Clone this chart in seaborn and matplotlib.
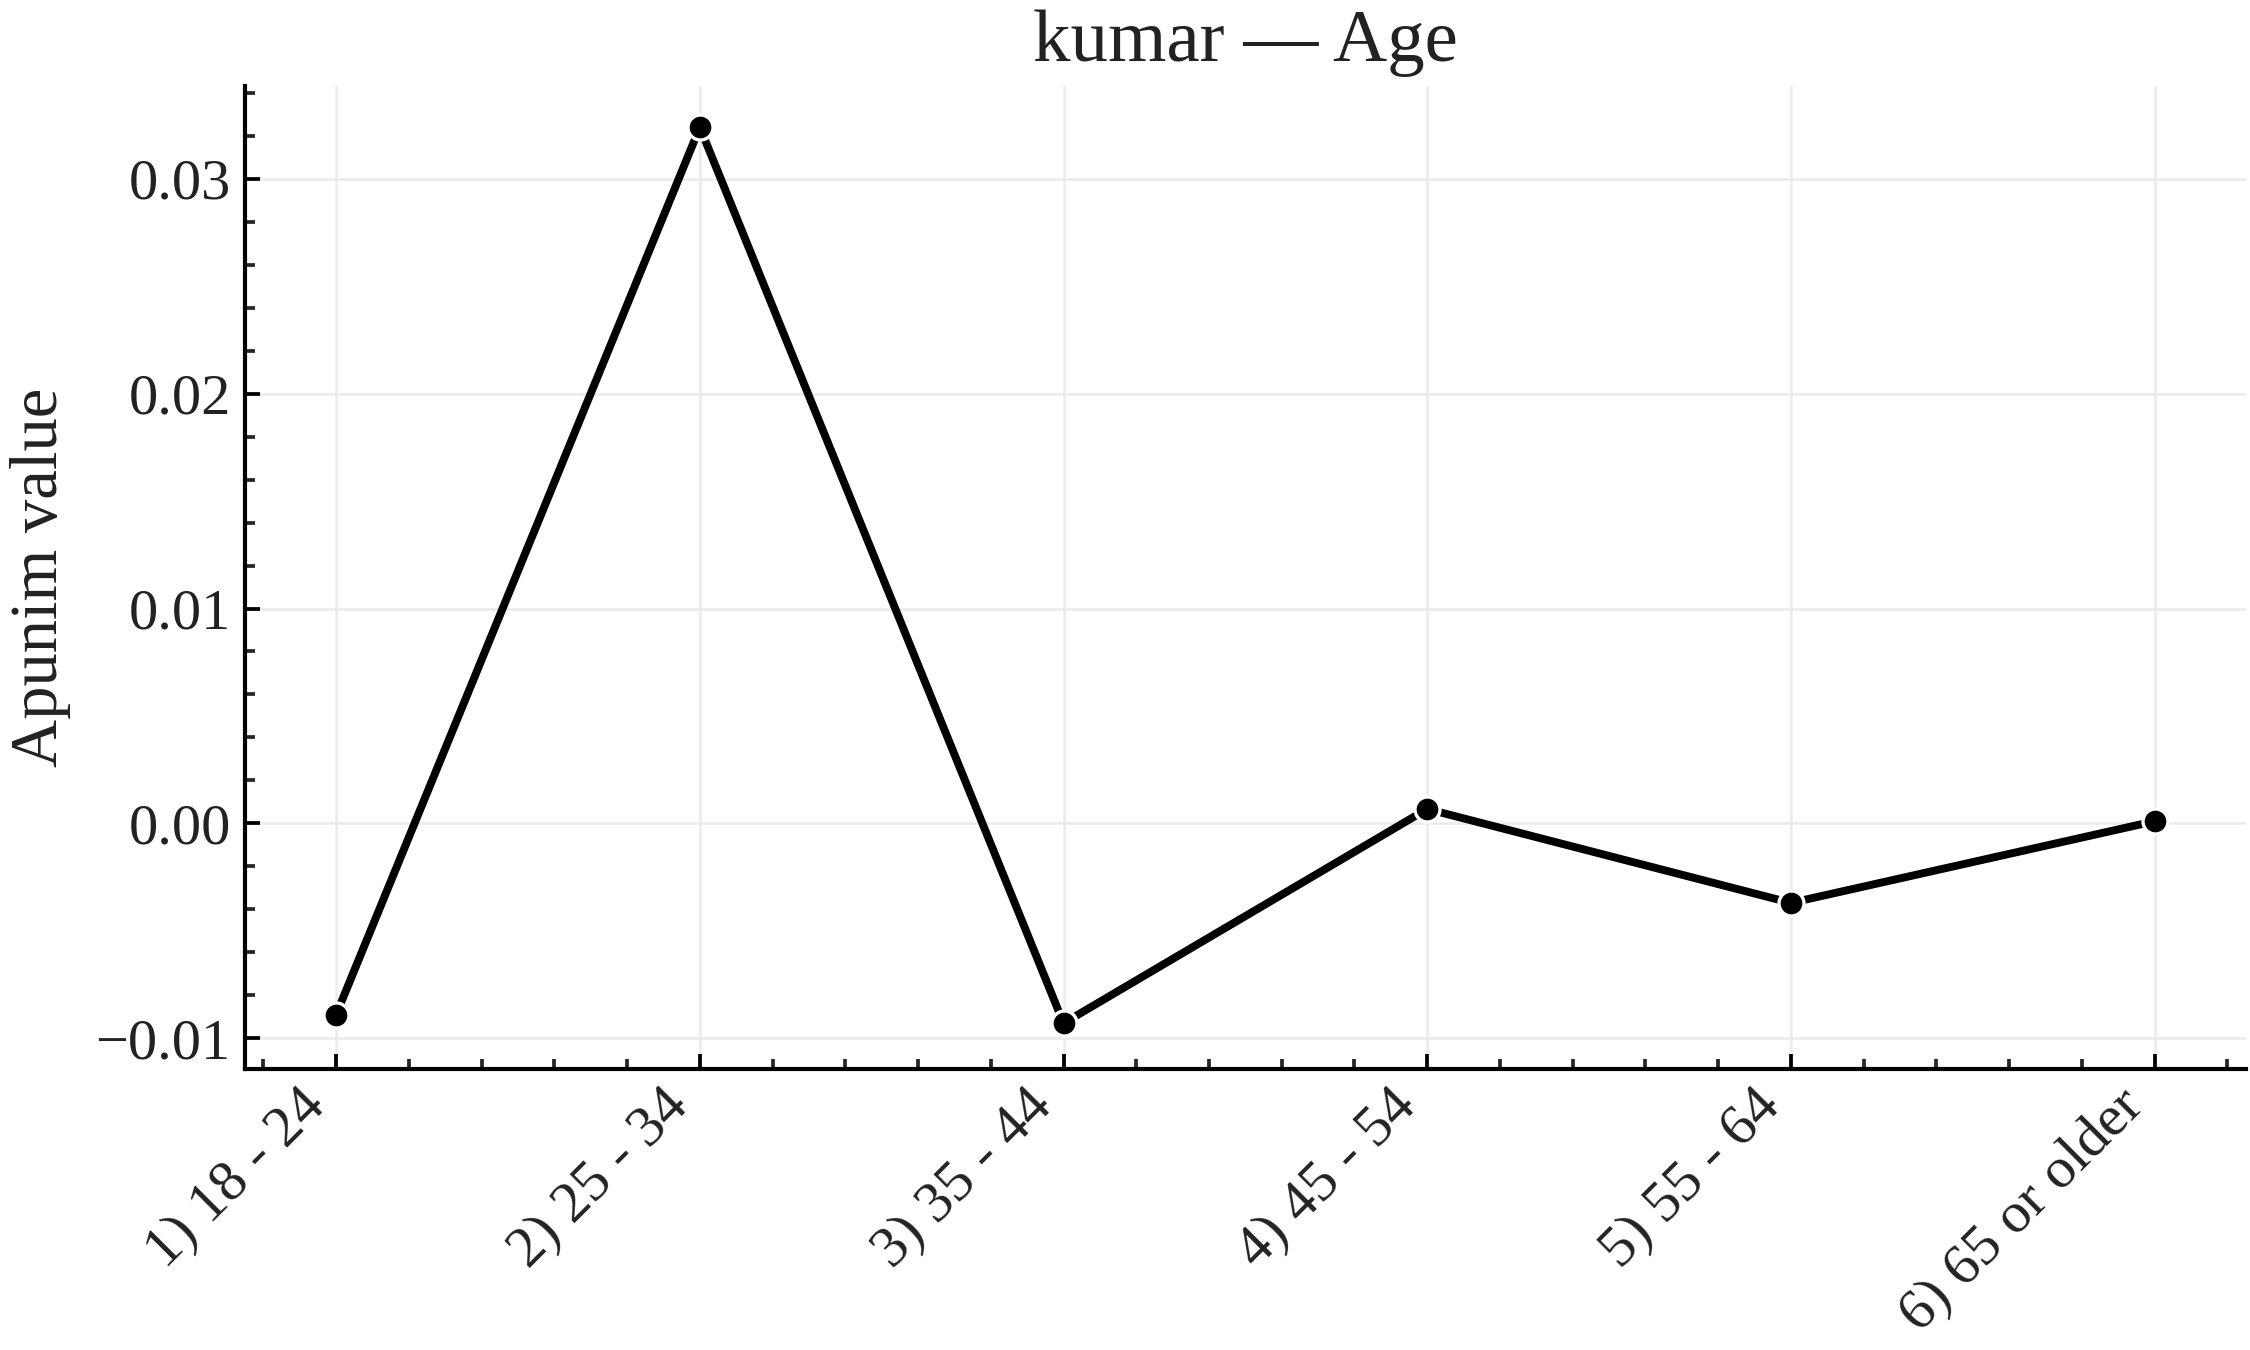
import seaborn as sns
import pandas as pd
from matplotlib import pyplot as plt
from matplotlib.ticker import AutoMinorLocator
from matplotlib.transforms import ScaledTranslation

age_groups = ["1) 18 - 24", "2) 25 - 34", "3) 35 - 44", "4) 45 - 54", "5) 55 - 64", "6) 65 or older"]
apunim_values = [-0.0089, 0.0324, -0.0093, 0.00067, -0.0037, 0.0001]

df = pd.DataFrame({"Age": age_groups, "Apunim value": apunim_values})

sns.set_theme(style="ticks", rc={
    "axes.spines.top": False,
    "axes.spines.right": False,
    "axes.linewidth": 1.0,
    "xtick.direction": "in",
    "ytick.direction": "in",
    "xtick.major.size": 3.5,
    "ytick.major.size": 3.5,
    "xtick.minor.size": 2.5,
    "ytick.minor.size": 2.5,
    "xtick.major.width": 0.9,
    "ytick.major.width": 0.9,
    "xtick.minor.width": 0.9,
    "ytick.minor.width": 0.9,
    "axes.edgecolor": "black",
})
plt.rcParams["font.family"] = ["Liberation Serif", "DejaVu Serif"]
plt.rcParams["mathtext.fontset"] = "stix"

fig, ax = plt.subplots(figsize=(7.5, 4.5), dpi=300)
fig.subplots_adjust(left=0.109, right=0.998, top=0.936, bottom=0.208)

ax.grid(True, color="#ebebeb", linewidth=0.6, zorder=0)
sns.lineplot(data=df, x="Age", y="Apunim value", ax=ax, color="black",
             linewidth=1.9, marker="o", markersize=6, markeredgecolor="white",
             markeredgewidth=0.8)

ax.set_ylim(-0.01144, 0.0343)
ax.xaxis.set_minor_locator(AutoMinorLocator(5))
ax.yaxis.set_minor_locator(AutoMinorLocator(5))
ax.tick_params(axis="both", which="major", labelsize=14, colors="black", labelcolor="#222222")
shift = ScaledTranslation(-9 / 72, 1 / 72, fig.dpi_scale_trans)
for lab in ax.get_xticklabels():
    lab.set_rotation(45)
    lab.set_ha("right")
    lab.set_rotation_mode("anchor")
    lab.set_transform(lab.get_transform() + shift)
ax.set_xlabel("")
ax.set_ylabel("Apunim value", fontsize=16, color="#222222", labelpad=6)
ax.set_title("kumar — Age", fontsize=18, color="#222222")

plt.savefig("out.png", dpi=300)
